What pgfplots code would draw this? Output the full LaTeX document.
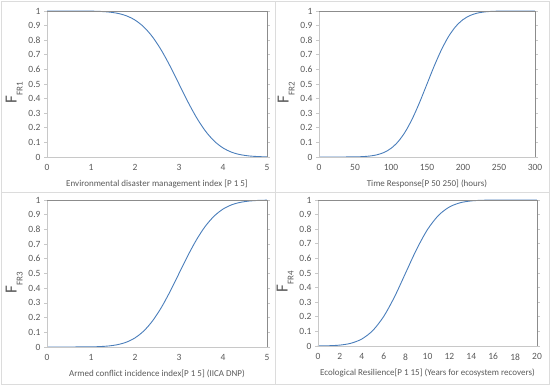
\documentclass[border=0pt]{standalone}
\usepackage{pgfplots}
\pgfplotsset{compat=1.18}
\usepackage{fontspec}
\setmainfont{Carlito}
\definecolor{tickgray}{HTML}{595959}
\definecolor{curve}{HTML}{4A7EBB}
\definecolor{lightax}{HTML}{C8C8C8}
\definecolor{darkax}{HTML}{8C8C8C}
\definecolor{frame}{HTML}{DCDCDC}
\pgfplotsset{
  panel/.style={
    scale only axis,
    anchor=south west,
    ymin=0, ymax=1,
    ytick={0,0.1,...,1},
    /pgf/number format/assume math mode=true,
    /pgf/number format/fixed,
    ticklabel style={font=\fontsize{9.5}{10}\selectfont, text=tickgray},
    xticklabel style={yshift=-1pt},
    xtick style={draw=none},
    ytick style={draw=lightax, line width=0.6pt},
    tick align=outside,
    major tick length=3pt,
    axis line style={draw=none},
    xlabel style={font=\fontsize{9}{10}\selectfont, text=tickgray, yshift=-2pt},
    ylabel style={font=\fontsize{17}{18}\selectfont, text=tickgray, yshift=-1pt,
      at={(ticklabel cs:0.44)}},
    clip=false,
    after end axis/.code={
      \draw[lightax, line width=0.6pt] (rel axis cs:0,1) -- (rel axis cs:0,0) -- (rel axis cs:1,0);
      \draw[darkax, line width=0.9pt] (rel axis cs:0,1) -- (rel axis cs:1,1) -- (rel axis cs:1,0);
    },
  },
  curvestyle/.style={curve, line width=0.9pt, smooth, no marks},
}
\newcommand{\sub}[1]{\raisebox{-0.35em}{\fontsize{9}{10}\selectfont #1}}
\begin{document}
\begin{tikzpicture}[x=1pt,y=1pt]
\path (0,0) rectangle (550,385);
\draw[frame, line width=0.8pt] (1,1) rectangle (549,384);
\draw[frame, line width=0.8pt] (275,1) -- (275,384);
\draw[frame, line width=0.8pt] (1,193) -- (549,193);

% Panel 1
\begin{axis}[panel, at={(47pt,228pt)}, width=220pt, height=146pt,
  xmin=0, xmax=5, xtick={0,1,2,3,4,5},
  xlabel={Environmental disaster management index [P 1 5]},
  ylabel={F\sub{FR1}}]
\addplot[curvestyle] coordinates {
(0,1) (0.5,0.9999) (1.0,0.99895) (1.2,0.9972) (1.4,0.9931) (1.6,0.9844) (1.8,0.9676)
(2.0,0.9380) (2.2,0.8908) (2.4,0.8220) (2.6,0.7308) (2.8,0.6209) (3.0,0.5)
(3.2,0.3791) (3.4,0.2692) (3.6,0.1780) (3.8,0.1092) (4.0,0.0620) (4.2,0.0324)
(4.4,0.0156) (4.6,0.0069) (4.8,0.0028) (5.0,0.00105)
};
\end{axis}

% Panel 2
\begin{axis}[panel, at={(319pt,228pt)}, width=216pt, height=146pt,
  xmin=0, xmax=300, xtick={0,50,100,150,200,250,300},
  xlabel={Time Response[P 50 250] (hours)},
  ylabel={F\sub{FR2}}]
\addplot[curvestyle] coordinates {
(0,0) (30,0.0001) (50,0.0009) (60,0.0025) (70,0.0062) (80,0.0144) (90,0.0304)
(100,0.0591) (110,0.1056) (120,0.1742) (130,0.2660) (140,0.3773) (150,0.5)
(160,0.6227) (170,0.7340) (180,0.8258) (190,0.8944) (200,0.9409) (210,0.9696)
(220,0.9856) (230,0.9938) (240,0.9975) (250,0.9991) (270,0.9999) (300,1)
};
\end{axis}

% Panel 3
\begin{axis}[panel, at={(47pt,38pt)}, width=220pt, height=147pt,
  xmin=0, xmax=5, xtick={0,1,2,3,4,5},
  xlabel={Armed conflict incidence index[P 1 5] (IICA DNP)},
  ylabel={F\sub{FR3}}]
\addplot[curvestyle] coordinates {
(0,0) (0.5,0.0001) (1.0,0.00105) (1.2,0.0028) (1.4,0.0069) (1.6,0.0156) (1.8,0.0324)
(2.0,0.0620) (2.2,0.1092) (2.4,0.1780) (2.6,0.2692) (2.8,0.3791) (3.0,0.5)
(3.2,0.6209) (3.4,0.7308) (3.6,0.8220) (3.8,0.8908) (4.0,0.9380) (4.2,0.9676)
(4.4,0.9844) (4.6,0.9931) (4.8,0.9972) (5.0,0.99895)
};
\end{axis}

% Panel 4
\begin{axis}[panel, at={(318pt,39pt)}, width=219pt, height=146pt,
  xmin=0, xmax=20, xtick={0,2,...,20},
  xlabel={Ecological Resilience[P 1 15] (Years for ecosystem recovers)},
  ylabel={F\sub{FR4}}]
\addplot[curvestyle] coordinates {
(0,0.0004) (1,0.0018) (2,0.0062) (3,0.0186) (4,0.0478) (5,0.1056) (6,0.2023)
(7,0.3385) (8,0.5) (9,0.6615) (10,0.7977) (11,0.8944) (12,0.9522) (13,0.9814)
(14,0.9938) (15,0.9982) (16,0.9996) (18,1) (20,1)
};
\end{axis}
\end{tikzpicture}
\end{document}
